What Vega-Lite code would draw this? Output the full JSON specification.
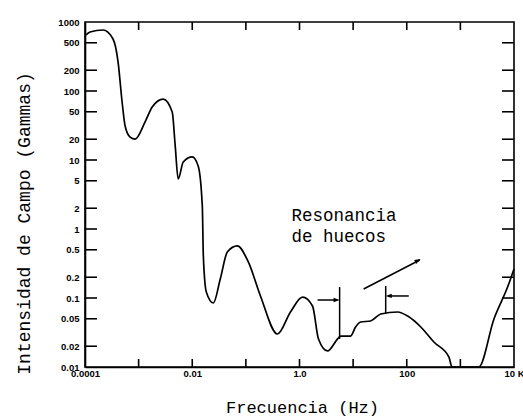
{
  "$schema": "https://vega.github.io/schema/vega-lite/v6.json",
  "width": 429,
  "height": 345,
  "autosize": {"type": "none"},
  "padding": {"left": 85, "top": 22, "right": 9, "bottom": 50},
  "background": "white",
  "config": {
    "view": {"stroke": "black", "strokeWidth": 1.6},
    "axis": {
      "domainColor": "black", "domainWidth": 1.6,
      "labelColor": "black", "labelFont": "Liberation Sans", "labelFontWeight": "bold", "labelFontSize": 9.5,
      "titleColor": "black", "titleFont": "Liberation Mono", "titleFontWeight": "normal",
      "grid": false
    }
  },
  "datasets": {
    "curva": [
      {"f": 0.000104, "b": 648}, {"f": 0.000124, "b": 716}, {"f": 0.000217, "b": 766},
      {"f": 0.000333, "b": 567}, {"f": 0.000414, "b": 263}, {"f": 0.000492, "b": 69.3},
      {"f": 0.00056, "b": 31.1}, {"f": 0.000694, "b": 21.5}, {"f": 0.000861, "b": 20.1},
      {"f": 0.00132, "b": 35.6}, {"f": 0.00179, "b": 58.7}, {"f": 0.00287, "b": 76.5},
      {"f": 0.00423, "b": 49.7}, {"f": 0.00481, "b": 16.0}, {"f": 0.00547, "b": 5.31},
      {"f": 0.00679, "b": 9.36}, {"f": 0.01, "b": 11.1}, {"f": 0.0129, "b": 8.18},
      {"f": 0.0154, "b": 2.15}, {"f": 0.0161, "b": 0.406}, {"f": 0.0183, "b": 0.122},
      {"f": 0.0247, "b": 0.0847}, {"f": 0.0333, "b": 0.188}, {"f": 0.0451, "b": 0.464},
      {"f": 0.0693, "b": 0.568}, {"f": 0.111, "b": 0.333}, {"f": 0.187, "b": 0.107},
      {"f": 0.388, "b": 0.0301}, {"f": 0.679, "b": 0.0627}, {"f": 1.14, "b": 0.103},
      {"f": 1.75, "b": 0.0766}, {"f": 2.26, "b": 0.0255}, {"f": 3.33, "b": 0.0171},
      {"f": 5.13, "b": 0.0255}, {"f": 5.84, "b": 0.0281}, {"f": 8.97, "b": 0.0281},
      {"f": 11.1, "b": 0.038}, {"f": 13.8, "b": 0.0449}, {"f": 21.2, "b": 0.0464},
      {"f": 32.7, "b": 0.0586}, {"f": 67.9, "b": 0.0627}, {"f": 104, "b": 0.0548},
      {"f": 183, "b": 0.038}, {"f": 320, "b": 0.023}, {"f": 610, "b": 0.014},
      {"f": 700, "b": 0.01}, {"f": 2200, "b": 0.01}, {"f": 4227, "b": 0.0497},
      {"f": 7727, "b": 0.149}, {"f": 10000, "b": 0.263}
    ],
    "anot": [
      {"f": 15.7, "b": 0.135, "f2": 175, "b2": 0.355},
      {"f": 5.6, "b": 0.144, "f2": 5.6, "b2": 0.0255},
      {"f": 2.17, "b": 0.0935, "f2": 5.0, "b2": 0.0935},
      {"f": 40.5, "b": 0.149, "f2": 40.5, "b2": 0.0586},
      {"f": 109, "b": 0.107, "f2": 45, "b2": 0.107}
    ],
    "marcas": [
      {"f": 0.001, "f2": 0.001, "b": 0.01, "b2": 0.01306},
      {"f": 0.01, "f2": 0.01, "b": 0.01, "b2": 0.01306},
      {"f": 0.1, "f2": 0.1, "b": 0.01, "b2": 0.01306},
      {"f": 1, "f2": 1, "b": 0.01, "b2": 0.01306},
      {"f": 10, "f2": 10, "b": 0.01, "b2": 0.01306},
      {"f": 100, "f2": 100, "b": 0.01, "b2": 0.01306},
      {"f": 1000, "f2": 1000, "b": 0.01, "b2": 0.01306},
      {"f": 0.001, "f2": 0.001, "b": 765.7, "b2": 1000},
      {"f": 0.01, "f2": 0.01, "b": 765.7, "b2": 1000},
      {"f": 0.1, "f2": 0.1, "b": 765.7, "b2": 1000},
      {"f": 1, "f2": 1, "b": 765.7, "b2": 1000},
      {"f": 10, "f2": 10, "b": 765.7, "b2": 1000},
      {"f": 100, "f2": 100, "b": 765.7, "b2": 1000},
      {"f": 1000, "f2": 1000, "b": 765.7, "b2": 1000},
      {"f": 0.0001, "f2": 0.0001674, "b": 500, "b2": 500},
      {"f": 0.0001, "f2": 0.0001674, "b": 200, "b2": 200},
      {"f": 0.0001, "f2": 0.0001674, "b": 100, "b2": 100},
      {"f": 0.0001, "f2": 0.0001674, "b": 50, "b2": 50},
      {"f": 0.0001, "f2": 0.0001674, "b": 20, "b2": 20},
      {"f": 0.0001, "f2": 0.0001674, "b": 10, "b2": 10},
      {"f": 0.0001, "f2": 0.0001674, "b": 5, "b2": 5},
      {"f": 0.0001, "f2": 0.0001674, "b": 2, "b2": 2},
      {"f": 0.0001, "f2": 0.0001674, "b": 1, "b2": 1},
      {"f": 0.0001, "f2": 0.0001674, "b": 0.5, "b2": 0.5},
      {"f": 0.0001, "f2": 0.0001674, "b": 0.2, "b2": 0.2},
      {"f": 0.0001, "f2": 0.0001674, "b": 0.1, "b2": 0.1},
      {"f": 0.0001, "f2": 0.0001674, "b": 0.05, "b2": 0.05},
      {"f": 0.0001, "f2": 0.0001674, "b": 0.02, "b2": 0.02},
      {"f": 5974, "f2": 10000, "b": 500, "b2": 500},
      {"f": 5974, "f2": 10000, "b": 200, "b2": 200},
      {"f": 5974, "f2": 10000, "b": 100, "b2": 100},
      {"f": 5974, "f2": 10000, "b": 50, "b2": 50},
      {"f": 5974, "f2": 10000, "b": 20, "b2": 20},
      {"f": 5974, "f2": 10000, "b": 10, "b2": 10},
      {"f": 5974, "f2": 10000, "b": 5, "b2": 5},
      {"f": 5974, "f2": 10000, "b": 2, "b2": 2},
      {"f": 5974, "f2": 10000, "b": 1, "b2": 1},
      {"f": 5974, "f2": 10000, "b": 0.5, "b2": 0.5},
      {"f": 5974, "f2": 10000, "b": 0.2, "b2": 0.2},
      {"f": 5974, "f2": 10000, "b": 0.1, "b2": 0.1},
      {"f": 5974, "f2": 10000, "b": 0.05, "b2": 0.05},
      {"f": 5974, "f2": 10000, "b": 0.02, "b2": 0.02}
    ],
    "flechas": [
      {"f": 4.92, "b": 0.0935, "tipo": "der"},
      {"f": 46.1, "b": 0.107, "tipo": "izq"},
      {"f": 161, "b": 0.349, "tipo": "diag"}
    ],
    "texto": [
      {"f": 0.708, "b": 1.31, "t": "Resonancia"},
      {"f": 0.708, "b": 0.648, "t": "de huecos"}
    ]
  },
  "resolve": {"axis": {"x": "independent", "y": "independent"}},
  "layer": [
    {
      "data": {"name": "curva"},
      "mark": {"type": "line", "interpolate": "monotone", "color": "black", "strokeWidth": 1.7},
      "encoding": {
        "x": {
          "field": "f", "type": "quantitative",
          "scale": {"type": "log", "domain": [0.0001, 10000], "nice": false},
          "axis": {
            "orient": "bottom",
            "values": [0.0001, 0.01, 1, 100, 10000],
            "labelExpr": "abs(log(datum.value)/LN10 + 4) < 0.01 ? '0.0001' : abs(log(datum.value)/LN10 + 2) < 0.01 ? '0.01' : abs(log(datum.value)/LN10) < 0.01 ? '1.0' : abs(log(datum.value)/LN10 - 2) < 0.01 ? '100' : '10 K'",
            "ticks": false,
            "tickSize": 0,
            "labelPadding": 1,
            "labelFlush": false,
            "labelOverlap": false,
            "title": "Frecuencia (Hz)",
            "titleFontSize": 17,
            "titleX": 217, "titleY": 40,
            "titleAlign": "center", "titleBaseline": "middle"
          }
        },
        "y": {
          "field": "b", "type": "quantitative",
          "scale": {"type": "log", "domain": [0.01, 1000], "nice": false},
          "axis": {
            "orient": "left",
            "values": [1000, 500, 200, 100, 50, 20, 10, 5, 2, 1, 0.5, 0.2, 0.1, 0.05, 0.02, 0.01],
            "format": "~g",
            "ticks": false,
            "tickSize": 0,
            "labelPadding": 6,
            "labelOverlap": false,
            "title": "Intensidad de Campo (Gammas)",
            "titleFontSize": 18,
            "titleX": -61, "titleY": 201,
            "titleAngle": 270, "titleAlign": "center", "titleBaseline": "middle"
          }
        }
      }
    },
    {
      "data": {"name": "marcas"},
      "mark": {"type": "rule", "color": "black", "strokeWidth": 1.6},
      "encoding": {
        "x": {"field": "f", "type": "quantitative", "axis": null},
        "x2": {"field": "f2"},
        "y": {"field": "b", "type": "quantitative", "axis": null},
        "y2": {"field": "b2"}
      }
    },
    {
      "data": {"name": "anot"},
      "mark": {"type": "rule", "color": "black", "strokeWidth": 1.5},
      "encoding": {
        "x": {"field": "f", "type": "quantitative", "axis": null},
        "x2": {"field": "f2"},
        "y": {"field": "b", "type": "quantitative", "axis": null},
        "y2": {"field": "b2"}
      }
    },
    {
      "data": {"name": "texto"},
      "mark": {"type": "text", "align": "left", "baseline": "alphabetic", "font": "Liberation Mono", "fontSize": 17.5, "color": "black"},
      "encoding": {
        "x": {"field": "f", "type": "quantitative", "axis": null},
        "y": {"field": "b", "type": "quantitative", "axis": null},
        "text": {"field": "t"}
      }
    },
    {
      "data": {"name": "flechas"},
      "mark": {"type": "point", "filled": true, "color": "black", "size": 150, "opacity": 1, "strokeWidth": 0},
      "encoding": {
        "x": {"field": "f", "type": "quantitative", "axis": null},
        "y": {"field": "b", "type": "quantitative", "axis": null},
        "shape": {
          "field": "tipo", "type": "nominal", "legend": null,
          "scale": {
            "domain": ["der", "izq", "diag"],
            "range": ["M0.5,0L-0.5,-0.35L-0.5,0.35Z", "M-0.5,0L0.5,-0.35L0.5,0.35Z", "M0.442,-0.235L-0.606,-0.075L-0.277,0.544Z"]
          }
        }
      }
    }
  ]
}
